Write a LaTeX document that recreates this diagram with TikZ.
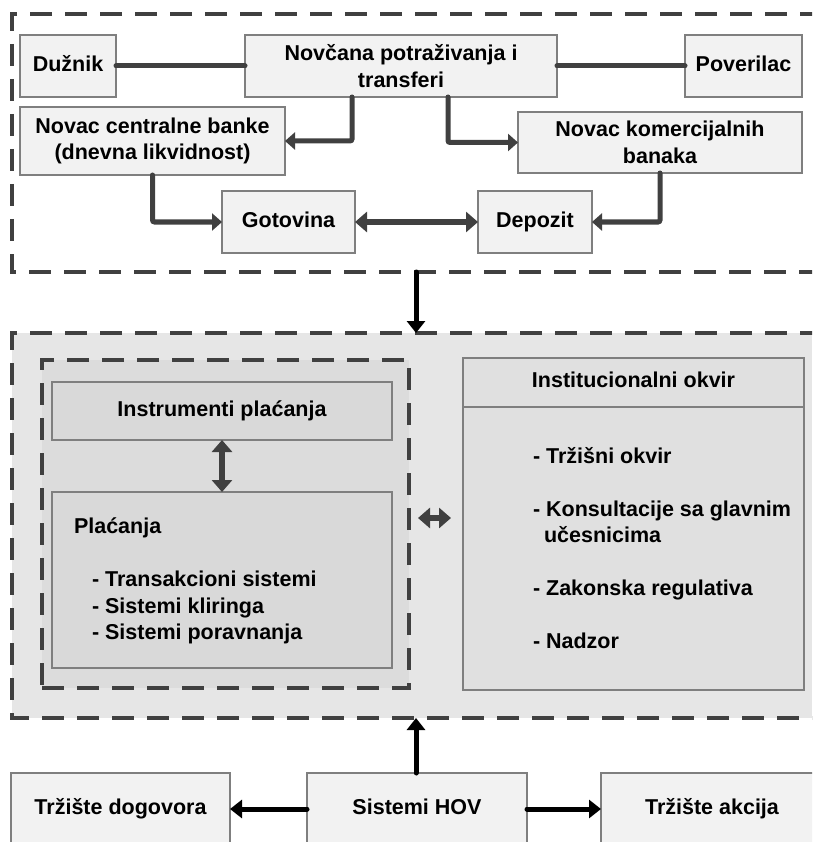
\documentclass[tikz,border=0pt]{standalone}
\usepackage{fontspec}
\setmainfont{Liberation Sans}
\usetikzlibrary{arrows.meta}
\definecolor{linegray}{HTML}{404040}
\definecolor{boxborder}{HTML}{7F7F7F}
\definecolor{boxfill}{HTML}{F2F2F2}
\definecolor{midfill}{HTML}{E6E6E6}
\definecolor{innerfill}{HTML}{DCDCDC}
\definecolor{darkfill}{HTML}{D9D9D9}
\definecolor{instfill}{HTML}{E0E0E0}
\begin{document}
\begin{tikzpicture}[x=1pt,y=-1pt,
  every node/.style={font=\fontsize{21.5}{26.5}\selectfont\bfseries, inner sep=0pt, outer sep=0pt},
  box/.style={draw=boxborder, line width=1.2pt, fill=boxfill, align=center},
  oneline/.style={text height=15.5pt, text depth=4.5pt},
  graybox/.style={draw=boxborder, line width=1.2pt, fill=darkfill, align=center},
  frame/.style={draw=linegray, line width=3.5pt, dash pattern=on 22pt off 13pt},
  conn/.style={draw=linegray, line width=5pt, line cap=round, rounded corners=2pt,
    -{Triangle[width=17pt,length=10pt]}},
  plainconn/.style={draw=linegray, line width=5pt, line cap=round},
  darrow/.style={draw=linegray, line width=6pt,
    {Triangle[width=20pt,length=12pt]}-{Triangle[width=20pt,length=12pt]}},
  barrow/.style={draw=black, line width=5pt, line cap=round,
    -{Triangle[width=18pt,length=12pt]}}]
\begin{scope}
\clip (0,0) rectangle (812,842);

% areas of the two dashed frames (open on the right)
\node[minimum width=800pt, minimum height=258pt] (topframe) at (412,143) {};
\node[fill=midfill, minimum width=800pt, minimum height=385pt] (midframe) at (412,525.5) {};
\draw[frame] ([xshift=10pt]topframe.north east) -- (topframe.north west)
  -- (topframe.south west) -- ([xshift=10pt]topframe.south east);
\draw[frame] ([xshift=10pt]midframe.north east) -- (midframe.north west)
  -- (midframe.south west) -- ([xshift=10pt]midframe.south east);
\node[frame, fill=innerfill, minimum width=367pt, minimum height=328pt] (innerframe) at (225.5,524) {};

% money flows
\node[box, oneline, minimum width=96pt, minimum height=62pt] (duznik) at (68,66) {Dužnik};
\node[box, minimum width=312pt, minimum height=62pt] (novcana) at (401,66) {Novčana potraživanja i\\transferi};
\node[box, oneline, minimum width=117pt, minimum height=62pt] (pover) at (743.5,66) {Poverilac};
\node[box, minimum width=265pt, minimum height=68pt] (ncb) at (152.5,141) {Novac centralne banke\\(dnevna likvidnost)};
\node[box, minimum width=284pt, minimum height=61pt] (nkb) at (660,142.5) {Novac komercijalnih\\banaka};
\node[box, oneline, minimum width=133pt, minimum height=62pt] (got) at (288.5,222) {Gotovina};
\node[box, oneline, minimum width=114pt, minimum height=62pt] (dep) at (535,222) {Depozit};

\draw[plainconn] (duznik.east) -- (novcana.west);
\draw[plainconn] (novcana.east) -- (pover.west);
\draw[conn] ([xshift=-49pt]novcana.south) |- (ncb.east);
\draw[conn] ([xshift=47pt]novcana.south) |- (nkb.west);
\draw[conn] (ncb.south) |- (got.west);
\draw[conn] (nkb.south) |- (dep.east);
\draw[darrow, line width=5pt] (got.east) -- (dep.west);

% payment system
\node[graybox, oneline, minimum width=340pt, minimum height=58pt] (instr) at (222,411) {Instrumenti plaćanja};
\node[graybox, minimum width=340pt, minimum height=176pt] (plac) at (222,580) {};
\node[anchor=west, align=left] (plactext) at (74,581)
  {Plaćanja\\[26.5pt]\hspace*{18pt}- Transakcioni sistemi\\\hspace*{18pt}- Sistemi kliringa\\\hspace*{18pt}- Sistemi poravnanja};
\draw[darrow] (instr.south) -- (plac.north);

% institutional framework
\node[box, fill=instfill, minimum width=341pt, minimum height=332pt] (inst) at (633.5,524) {};
\draw[draw=boxborder, line width=1.2pt] ([yshift=-49pt]inst.north west) -- ([yshift=-49pt]inst.north east);
\node[oneline] (insttitle) at ([yshift=-24pt]inst.north) {Institucionalni okvir};
\node[anchor=west, align=left] (instlist) at (533,548)
  {- Tržišni okvir\\[26.5pt]- Konsultacije sa glavnim\\\hspace*{11pt}učesnicima\\[26.5pt]- Zakonska regulativa\\[26.5pt]- Nadzor};
\draw[darrow] ([xshift=9pt,yshift=6pt]innerframe.east) -- ([xshift=-12pt,yshift=6pt]inst.west);

% securities systems
\node[box, oneline, minimum width=219pt, minimum height=72pt] (tdog) at (120.5,809) {Tržište dogovora};
\node[box, oneline, minimum width=220pt, minimum height=72pt] (hov) at (417,809) {Sistemi HOV};
\node[box, oneline, minimum width=222pt, minimum height=72pt] (takc) at (712,809) {Tržište akcija};

\draw[barrow] ([xshift=-1pt]hov.north |- topframe.south) -- ([xshift=-1pt]hov.north |- midframe.north);
\draw[barrow] ([xshift=-1pt]hov.north) -- ([xshift=-1pt]hov.north |- midframe.south);
\draw[barrow] (hov.west) -- (tdog.east);
\draw[barrow] (hov.east) -- (takc.west);
\end{scope}
\pgfresetboundingbox
\useasboundingbox (0,0) rectangle (812,842);
\end{tikzpicture}
\end{document}
